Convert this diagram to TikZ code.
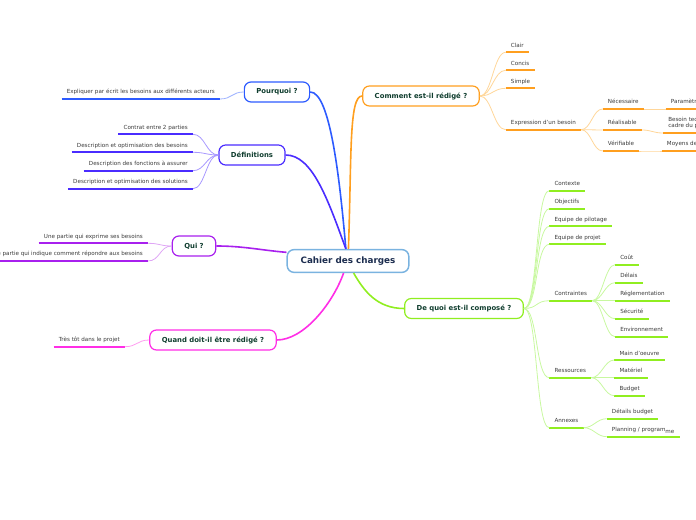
\documentclass[tikz,border=0pt]{standalone}
\usepackage{fontspec}
\setmainfont{DejaVu Sans}
\usetikzlibrary{calc}

\definecolor{cRoot}{HTML}{7AB3E0}
\definecolor{cNavy}{HTML}{1C2D4F}
\definecolor{cTeal}{HTML}{0F3D2E}
\definecolor{cGrey}{HTML}{3A3A3A}
\definecolor{cBlue}{HTML}{2D5BFF}
\definecolor{cBlueP}{HTML}{9FB3FF}
\definecolor{cIndigo}{HTML}{4A2CFF}
\definecolor{cIndigoP}{HTML}{A898FF}
\definecolor{cPurple}{HTML}{A820EE}
\definecolor{cPurpleP}{HTML}{DFA6F5}
\definecolor{cMagenta}{HTML}{FF2EE6}
\definecolor{cMagentaP}{HTML}{FF9DF0}
\definecolor{cOrange}{HTML}{FF9F1F}
\definecolor{cOrangeP}{HTML}{FFD699}
\definecolor{cLime}{HTML}{90EE20}
\definecolor{cLimeP}{HTML}{C8F8A0}

\tikzset{
  root/.style={draw=cRoot, line width=1.1pt, rounded corners=5pt, fill=white,
    font=\fontsize{6.6}{7}\selectfont\bfseries, text=cNavy, inner xsep=10pt, minimum height=17pt},
  topic/.style={draw=#1, line width=0.9pt, rounded corners=5pt, fill=white,
    font=\fontsize{5.15}{6}\selectfont\bfseries, text=cTeal, inner xsep=9pt, minimum height=15pt},
  leaf/.style={font=\fontsize{4.2}{4.5}\selectfont, text=cGrey, inner xsep=3.75pt,
    inner ysep=2.5pt, text depth=1.05pt,
    append after command={(\tikzlastnode.south west) edge[draw=#1, line width=1.5pt] (\tikzlastnode.south east)}},
  trunk/.style={draw=#1, line width=1.2pt},
  twig/.style={line width=0.6pt,
    to path={.. controls ($(\tikztostart)+(#1,0)$) and ($(\tikztotarget)-(#1,0)$) .. (\tikztotarget)}},
}

\begin{document}
\begin{tikzpicture}[x=0.75pt, y=-0.75pt]
  \useasboundingbox (0,0) rectangle (696,520);
  \clip (0,0) rectangle (696,520);

  % Main topics
  \node[root] (cdc) at (348,261) {Cahier des charges};
  \node[topic=cBlue] (why) at (277,92) {Pourquoi ?};
  \node[topic=cIndigo] (def) at (252,155) {Définitions};
  \node[topic=cPurple] (qui) at (194,246) {Qui ?};
  \node[topic=cMagenta] (quand) at (213,340) {Quand doit-il être rédigé ?};
  \node[topic=cOrange] (comment) at (421,96) {Comment est-il rédigé ?};
  \node[topic=cLime] (dequoi) at (464,308.5) {De quoi est-il composé ?};

  % Trunks
  \draw[trunk=cBlue] (cdc.100) to[out=95, in=0, out distance=52pt, in distance=15pt] (why.east);
  \draw[trunk=cIndigo] (cdc.100) to[out=110, in=0, out distance=40pt, in distance=20pt] (def.east);
  \draw[trunk=cOrange] (cdc.88) to[out=88, in=180, out distance=70pt, in distance=10pt] (comment.west);
  \draw[trunk=cPurple] (cdc.172) to[out=175, in=0, out distance=20pt, in distance=20pt] (qui.east);
  \draw[trunk=cMagenta] (cdc.-110) to[out=-110, in=0, out distance=25pt, in distance=20pt] (quand.east);
  \draw[trunk=cLime] (cdc.-65) to[out=-60, in=180, out distance=16pt, in distance=20pt] (dequoi.west);

  % Pourquoi
  \node[leaf=cBlue, anchor=south east] (why1) at (220,99) {Expliquer par écrit les besoins aux différents acteurs};
  \draw[twig=-12, cBlueP] (why.west) to (why1.south east);

  % Definitions
  \foreach \y/\txt [count=\i] in {134.3/Contrat entre 2 parties,
      152.3/Description et optimisation des besoins,
      170.7/Description des fonctions à assurer,
      188.7/Description et optimisation des solutions} {
    \node[leaf=cIndigo, anchor=south east] (def\i) at (193,\y) {\txt};
    \draw[twig=-12, cIndigoP] (def.west) to (def\i.south east);
  }

  % Qui
  \foreach \y/\txt [count=\i] in {243.3/Une partie qui exprime ses besoins,
      261/Une partie qui indique comment répondre aux besoins} {
    \node[leaf=cPurple, anchor=south east] (qui\i) at (148,\y) {\txt};
    \draw[twig=-12, cPurpleP] (qui.west) to (qui\i.south east);
  }

  % Quand
  \node[leaf=cMagenta, anchor=south east] (quand1) at (125,346.7) {Très tôt dans le projet};
  \draw[twig=-12, cMagentaP] (quand.west) to (quand1.south east);

  % Comment
  \foreach \y/\txt [count=\i] in {52.3/Clair, 70.3/Concis, 88.3/Simple,
      129.7/Expression d'un besoin} {
    \node[leaf=cOrange, anchor=south west] (com\i) at (505.7,\y) {\txt};
    \draw[twig=12, cOrangeP] (comment.east) to (com\i.south west);
  }
  \foreach \y/\txt [count=\i] in {109/Nécessaire, 130/Réalisable, 151/Vérifiable} {
    \node[leaf=cOrange, anchor=south west] (exp\i) at (602.7,\y) {\txt};
    \draw[twig=10, cOrangeP] (com4.south east) to (exp\i.south west);
  }
  \node[leaf=cOrange, anchor=south west] (nec1) at (665.7,109) {Paramètres mesurables};
  \node[leaf=cOrange, anchor=south west, align=left] (rea1) at (663,133) {Besoin technique dans le\\cadre du projet};
  \node[leaf=cOrange, anchor=south west] (ver1) at (661.7,151) {Moyens de contrôle};
  \draw[twig=10, cOrangeP] (exp1.south east) to (nec1.south west);
  \draw[twig=10, cOrangeP] (exp2.south east) to (rea1.south west);
  \draw[twig=10, cOrangeP] (exp3.south east) to (ver1.south west);

  % De quoi
  \foreach \y/\txt [count=\i] in {190.7/Contexte, 208.7/Objectifs,
      226.3/Equipe de pilotage, 244.3/Equipe de projet, 300.7/Contraintes,
      377.7/Ressources, 427.7/Annexes} {
    \node[leaf=cLime, anchor=south west] (dq\i) at (549.3,\y) {\txt};
    \draw[twig=14, cLimeP] (dequoi.east) to (dq\i.south west);
  }
  \foreach \y/\txt [count=\i] in {264.7/Coût, 282.7/Délais, 300.7/Réglementation,
      318.7/Sécurité, 336.7/Environnement} {
    \node[leaf=cLime, anchor=south west] (ctr\i) at (615,\y) {\txt};
    \draw[twig=10, cLimeP] (dq5.south east) to (ctr\i.south west);
  }
  \foreach \y/\txt [count=\i] in {360/Main d'oeuvre, 377.7/Matériel, 395.7/Budget} {
    \node[leaf=cLime, anchor=south west] (res\i) at (614.3,\y) {\txt};
    \draw[twig=10, cLimeP] (dq6.south east) to (res\i.south west);
  }
  \node[leaf=cLime, anchor=south west] (ann1) at (606.7,418.7) {Détails budget};
  \node[leaf=cLime, anchor=south west] (ann2) at (606.7,436.7) {Planning / program\raisebox{-1.6pt}{me}};
  \draw[twig=10, cLimeP] (dq7.south east) to (ann1.south west);
  \draw[twig=10, cLimeP] (dq7.south east) to (ann2.south west);
\end{tikzpicture}
\end{document}
